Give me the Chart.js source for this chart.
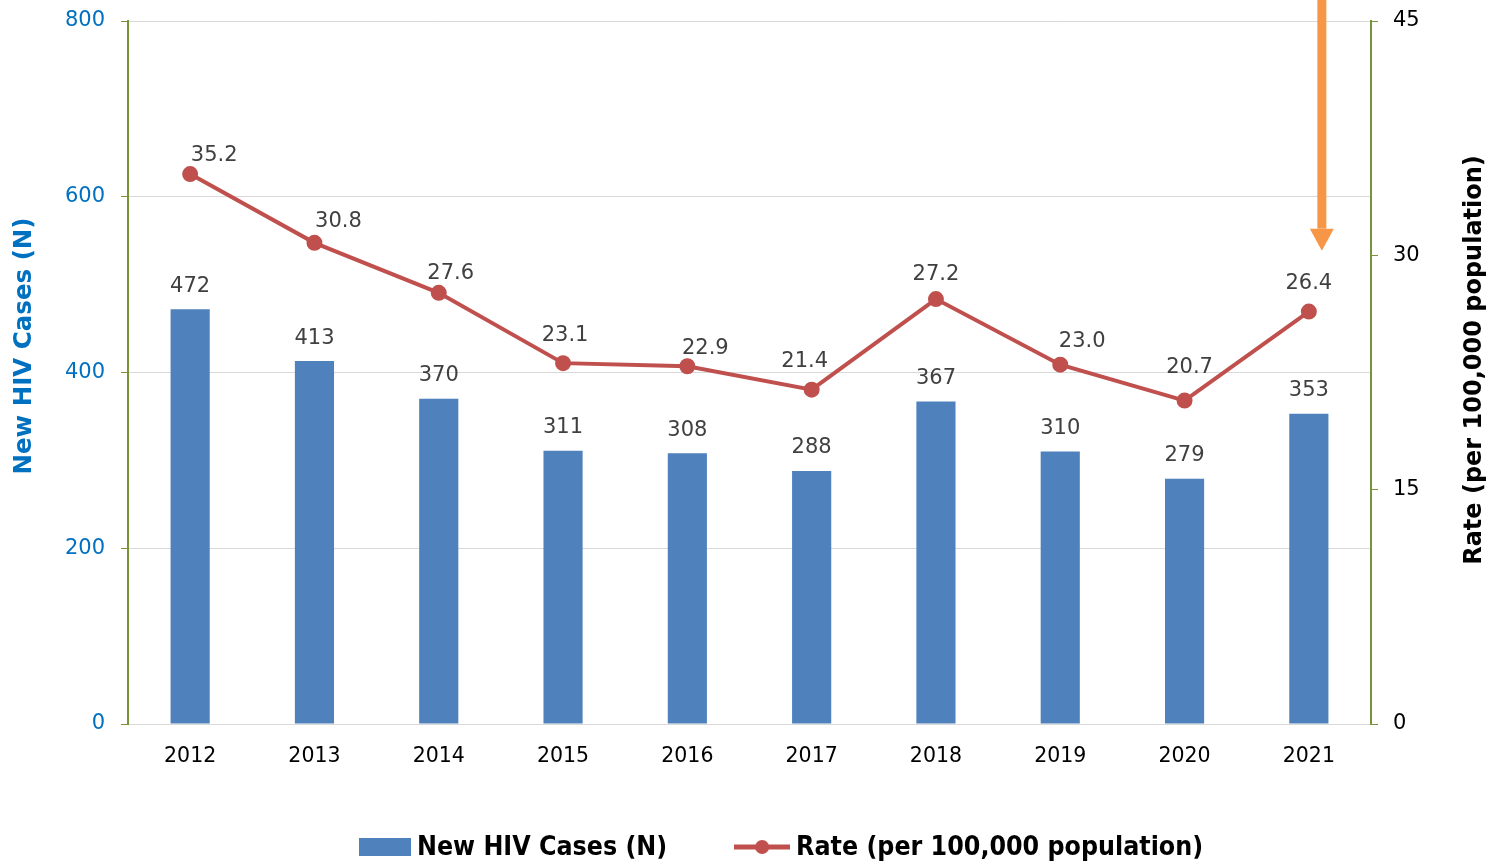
<!DOCTYPE html>
<html>
<head>
<meta charset="utf-8">
<script src="https://cdn.jsdelivr.net/npm/chart.js@4.4.1/dist/chart.umd.min.js"></script>
<style>
  html, body { margin: 0; padding: 0; background: #fff; }
</style>
</head>
<body>
<canvas id="hivChart" width="1499" height="865"></canvas>
<script>
// data
const years = ['2012', '2013', '2014', '2015', '2016', '2017', '2018', '2019', '2020', '2021'];
const newCases = [472, 413, 370, 311, 308, 288, 367, 310, 279, 353];
const rates = [35.2, 30.8, 27.6, 23.1, 22.9, 21.4, 27.2, 23.0, 20.7, 26.4];
const caseAxis = { min: 0, max: 800, step: 200 };
const rateAxis = { min: 0, max: 45, step: 15 };

// small hand nudges for the rate labels (px), like the original layout
const rateLabelNudge = [[24, -21], [24, -23], [12, -21], [2, -30], [18, -20], [-7, -30], [0, -27], [22, -25], [5, -35], [0, -30]];

const BLUE = '#4F81BD';
const RED = '#C0504D';
const GREEN = '#77933C';
const GRID = '#D9D9D9';

Chart.defaults.font.family = 'DejaVu Sans';

function swatch(w, h, paint) {
    const c = document.createElement('canvas');
    c.width = w;
    c.height = h;
    paint(c.getContext('2d'));
    return c;
}
const barSwatch = swatch(52, 18, g => {
    g.fillStyle = BLUE;
    g.fillRect(0, 0, 52, 18);
});
const lineSwatch = swatch(56, 18, g => {
    g.strokeStyle = RED;
    g.lineWidth = 5;
    g.beginPath();
    g.moveTo(0, 9);
    g.lineTo(56, 9);
    g.stroke();
    g.fillStyle = RED;
    g.beginPath();
    g.arc(28, 9, 7, 0, Math.PI * 2);
    g.fill();
});

const valueLabels = {
    id: 'valueLabels',
    afterDatasetsDraw(chart) {
        const ctx = chart.ctx;
        ctx.save();
        ctx.font = '21px DejaVu Sans';
        ctx.fillStyle = '#404040';
        ctx.textAlign = 'center';
        ctx.textBaseline = 'middle';
        chart.getDatasetMeta(0).data.forEach((bar, i) => {
            ctx.fillText(newCases[i], bar.x, bar.y - 23);
        });
        chart.getDatasetMeta(1).data.forEach((pt, i) => {
            const n = rateLabelNudge[i];
            ctx.fillText(rates[i].toFixed(1), pt.x + n[0], pt.y + n[1] + 2);
        });
        ctx.restore();
    }
};

function axisTitle(ctx, text, x, y, font, color) {
    ctx.save();
    ctx.font = font;
    ctx.fillStyle = color;
    ctx.textAlign = 'center';
    ctx.textBaseline = 'middle';
    ctx.translate(x, y);
    ctx.rotate(-Math.PI / 2);
    ctx.fillText(text, 0, 0);
    ctx.restore();
}

const extras = {
    id: 'extras',
    afterDraw(chart) {
        const ctx = chart.ctx;

        // both axis titles read bottom to top
        axisTitle(ctx, 'New HIV Cases (N)', 25, 346, 'bold 24.5px DejaVu Sans', '#0070C0');
        axisTitle(ctx, 'Rate (per 100,000 population)', 1475, 360, 'bold 24px DejaVu Sans', '#000');

        // orange arrow pointing at 2021
        const x = chart.scales.x.getPixelForValue(9) + 13;
        const tip = chart.scales.y1.getPixelForValue(30.3);
        ctx.save();
        ctx.fillStyle = '#F79646';
        ctx.fillRect(x - 4.5, 0, 9, tip - 22);
        ctx.beginPath();
        ctx.moveTo(x - 12, tip - 22);
        ctx.lineTo(x + 12, tip - 22);
        ctx.lineTo(x, tip);
        ctx.closePath();
        ctx.fill();
        ctx.restore();

        // legend
        const items = [
            { text: 'New HIV Cases (N)', box: barSwatch },
            { text: 'Rate (per 100,000 population)', box: lineSwatch }
        ];
        ctx.save();
        ctx.font = 'bold 26.5px DejaVu Sans Condensed';
        ctx.fillStyle = '#000';
        ctx.textBaseline = 'middle';
        ctx.textAlign = 'left';
        const gap = 6, between = 67;
        let total = 0;
        items.forEach((it, i) => {
            it.w = ctx.measureText(it.text).width;
            total += it.box.width + gap + it.w + (i ? between : 0);
        });
        let lx = 781 - total / 2;
        const ly = 847;
        items.forEach(it => {
            ctx.drawImage(it.box, lx, ly - it.box.height / 2);
            lx += it.box.width + gap;
            ctx.fillText(it.text, lx, ly + 1);
            lx += it.w + between;
        });
        ctx.restore();
    }
};

function fixWidth(s) {
    s.width = 128;
    s.paddingTop = 0;
    s.paddingBottom = 0;
}

const ctx = document.getElementById('hivChart').getContext('2d');
new Chart(ctx, {
    data: {
        labels: years,
        datasets: [{
            type: 'bar',
            label: 'New HIV Cases (N)',
            data: newCases,
            backgroundColor: BLUE,
            barPercentage: 0.315,
            categoryPercentage: 1,
            yAxisID: 'y',
            order: 2
        }, {
            type: 'line',
            label: 'Rate (per 100,000 population)',
            data: rates,
            borderColor: RED,
            backgroundColor: RED,
            borderWidth: 4,
            pointRadius: 6,
            pointBackgroundColor: RED,
            pointBorderColor: RED,
            tension: 0,
            yAxisID: 'y1',
            order: 1
        }]
    },
    options: {
        responsive: false,
        animation: false,
        devicePixelRatio: 1,
        layout: { padding: { top: 21, bottom: 53 } },
        plugins: {
            tooltip: { enabled: false },
            legend: { display: false }
        },
        scales: {
            x: {
                grid: { display: true, drawOnChartArea: false, drawTicks: false },
                border: { color: GRID, width: 1 },
                ticks: { color: '#000', font: { size: 20.5 }, padding: 20 },
                afterFit: s => { s.height = 88; }
            },
            y: {
                position: 'left',
                min: caseAxis.min,
                max: caseAxis.max,
                ticks: { stepSize: caseAxis.step, color: '#0070C0', font: { size: 21 }, padding: 16 },
                grid: { color: GRID, tickColor: GREEN, tickLength: 7, lineWidth: 1 },
                border: { color: GREEN, width: 2 },
                afterFit: fixWidth
            },
            y1: {
                position: 'right',
                min: rateAxis.min,
                max: rateAxis.max,
                ticks: { stepSize: rateAxis.step, color: '#000', font: { size: 21 }, padding: 15 },
                grid: { drawOnChartArea: false, tickColor: GREEN, tickLength: 7 },
                border: { color: GREEN, width: 2 },
                afterFit: fixWidth
            }
        }
    },
    plugins: [valueLabels, extras]
});
</script>
</body>
</html>
